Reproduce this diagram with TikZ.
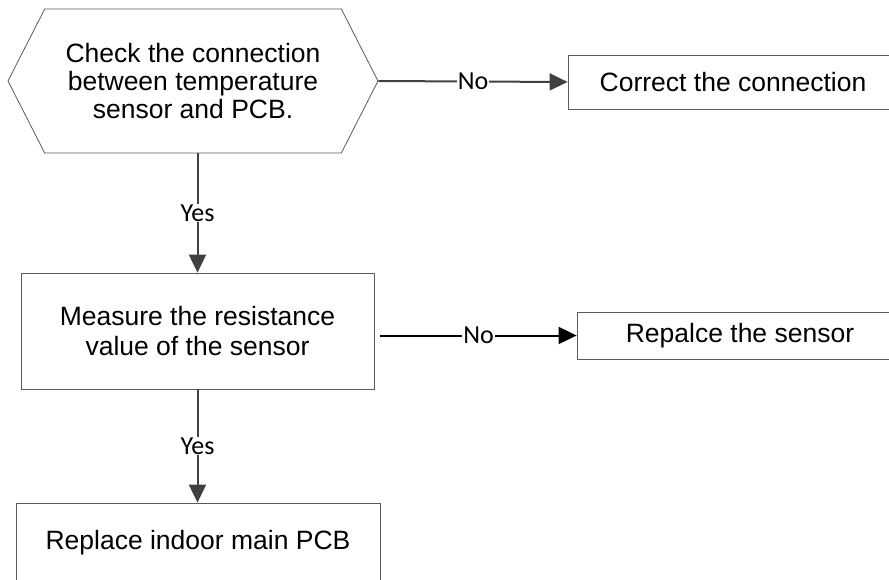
\documentclass[tikz,border=0pt]{standalone}
\usepackage{fontspec}
\setmainfont{Liberation Sans}
\newfontfamily\answerfont{Carlito}
\usetikzlibrary{shapes.symbols,arrows.meta}
\definecolor{edgegray}{HTML}{5A5A5A}
\definecolor{arrowgray}{HTML}{404040}

\begin{document}
\begin{tikzpicture}[x=1pt, y=-1pt,
    box/.style={rectangle, draw=edgegray, line width=0.8pt, align=center, inner sep=0pt,
        font=\fontsize{26.5}{30.5}\selectfont},
    hexbox/.style={signal, signal to=west and east, signal pointer angle=126, draw=edgegray,
        line width=0.8pt, align=center, inner sep=0pt, font=\fontsize{26.5}{27.8}\selectfont},
    flow/.style={-{Triangle[length=18pt,width=17pt]}, line width=2pt, draw=arrowgray},
    answer/.style={fill=white, inner sep=1pt, font=\answerfont\fontsize{26}{28}\selectfont}
]
    \useasboundingbox (0,0) rectangle (889,579);
    \clip (0,0) rectangle (889,579);

    \node[hexbox, minimum width=370pt, minimum height=144pt] (check) at (193,81)
        {Check the connection\\between temperature\\sensor and PCB.};
    \node[box, minimum width=330pt, minimum height=54pt] (correct) at (733,82) {Correct the connection};
    \node[box, minimum width=353pt, minimum height=116pt] (measure) at (197.5,331)
        {Measure the resistance\\value of the sensor};
    \node[box, minimum width=326pt, minimum height=47pt] (sensor) at (740,335.5) {Repalce the sensor};
    \node[box, minimum width=364pt, minimum height=80pt] (pcb) at (198,543) {Replace indoor main PCB};

    \draw[flow] (check.east) -- node[answer] {No} (correct.west);
    \draw[flow] (measure.north |- check.south) -- node[answer] {Yes} (measure.north);
    \draw[flow, draw=black] ([xshift=6pt]measure.east |- sensor.west) -- node[answer] {No} (sensor.west);
    \draw[flow] (measure.south) -- node[answer] {Yes} (measure.south |- pcb.north);
\end{tikzpicture}
\end{document}
